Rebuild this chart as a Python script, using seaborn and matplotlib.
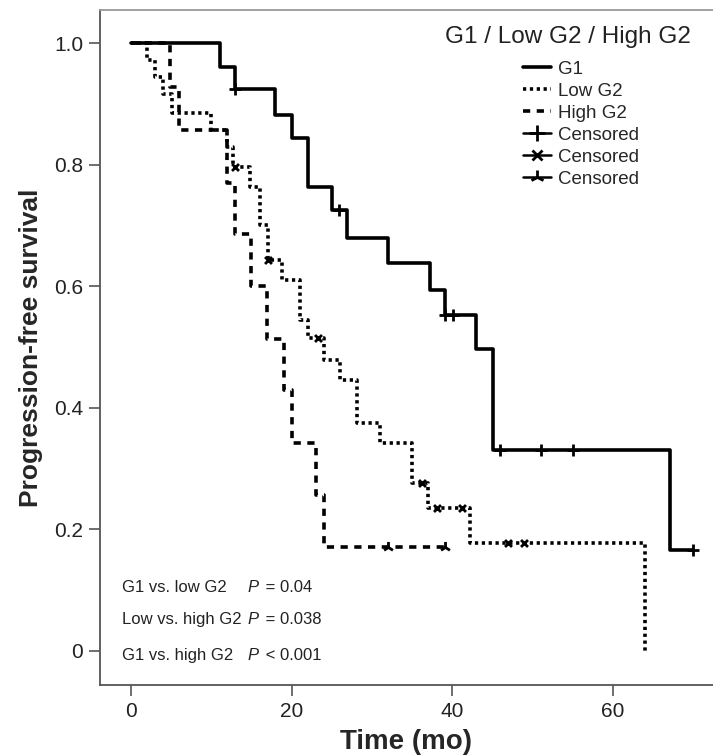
import numpy as np
import pandas as pd
import matplotlib
matplotlib.use("Agg")
import matplotlib.pyplot as plt
from matplotlib.lines import Line2D
import seaborn as sns

# -------------------
# DATA
# -------------------
g1_time = [0, 11.1, 13.0, 17.9, 20.1, 22.1, 25.1, 26.9, 32.0, 37.2, 39.1, 43.0, 45.1, 67.1, 70.0]
g1_surv = [1.0, 0.962, 0.925, 0.882, 0.845, 0.763, 0.726, 0.679, 0.638, 0.594, 0.553, 0.497, 0.331, 0.166, 0.166]
g1_censored = [13.0, 25.9, 39.1, 40.1, 46.0, 51.1, 55.1, 70.0]

low_time = [0, 2.0, 3.0, 4.0, 5.1, 10.0, 12.0, 12.7, 14.8, 16.1, 17.1, 18.8, 21.0, 22.1,
            24.0, 26.0, 28.1, 31.0, 35.0, 37.0, 42.2, 64.0]
low_surv = [1.0, 0.972, 0.944, 0.917, 0.885, 0.858, 0.830, 0.797, 0.764, 0.701, 0.644, 0.611,
            0.545, 0.515, 0.479, 0.446, 0.375, 0.342, 0.276, 0.235, 0.177, 0.0]
low_censored = [13.0, 17.1, 23.3, 36.2, 38.1, 41.2, 47.0, 48.9]

high_time = [0, 4.9, 6.0, 11.9, 13.0, 15.0, 16.9, 19.0, 20.0, 23.1, 24.0, 39.1]
high_surv = [1.0, 0.929, 0.857, 0.771, 0.686, 0.600, 0.514, 0.429, 0.343, 0.257, 0.171, 0.171]
high_censored = [32.0, 39.1]

group_names = ["G1", "Low G2", "High G2"]
x_ticks = [0, 20, 40, 60]
y_ticks = [0, 0.2, 0.4, 0.6, 0.8, 1.0]
y_tick_labels = ["0", "0.2", "0.4", "0.6", "0.8", "1.0"]
comparisons = ["G1 vs. low G2", "Low vs. high G2", "G1 vs. high G2"]
p_values = ["P = 0.04", "P = 0.038", "P < 0.001"]

# -------------------
# STYLE
# -------------------
sns.set_style("ticks")
plt.rcParams["font.family"] = ["Liberation Sans", "DejaVu Sans"]

LW = 2.6
styles = {
    "G1": dict(linestyle="-", marker="+", ms=9),
    "Low G2": dict(linestyle=(0, (0.9, 1.0)), marker="x", ms=5),
    "High G2": dict(linestyle=(0, (2.0, 1.8)), marker="2", ms=8),
}

fig = plt.figure(figsize=(7.13, 7.55), dpi=100)
ax = fig.add_axes([100 / 713, 70 / 755, 613 / 713, 675 / 755])

curves = [
    ("G1", g1_time, g1_surv, g1_censored),
    ("Low G2", low_time, low_surv, low_censored),
    ("High G2", high_time, high_surv, high_censored),
]

for name, t, s, cens in curves:
    df = pd.DataFrame({"time": t, "surv": s})
    sns.lineplot(data=df, x="time", y="surv", ax=ax, color="black",
                 linewidth=LW, linestyle=styles[name]["linestyle"],
                 drawstyle="steps-post", estimator=None)
    # censored marks sit on the step function
    t_arr = np.array(t)
    idx = np.searchsorted(t_arr, cens, side="right") - 1
    cdf = pd.DataFrame({"time": cens, "surv": np.array(s)[idx]})
    sns.scatterplot(data=cdf, x="time", y="surv", ax=ax, color="black",
                    marker=styles[name]["marker"], s=styles[name]["ms"] ** 2,
                    linewidth=2.0, zorder=5)

# -------------------
# AXES
# -------------------
ax.set_xlim(-3.86, 72.5)
ax.set_ylim(-0.056, 1.055)
ax.set_xticks(x_ticks)
ax.set_yticks(y_ticks)
ax.set_yticklabels(y_tick_labels)
ax.tick_params(axis="both", labelsize=15, length=8, width=1.2, color="#555555",
               labelcolor="#222222", pad=4)
ax.spines["right"].set_visible(False)
for side in ["left", "bottom"]:
    ax.spines[side].set_color("#555555")
    ax.spines[side].set_linewidth(1.3)
ax.spines["top"].set_color("#999999")
ax.spines["top"].set_linewidth(1.3)

ax.set_xlabel("Time (mo)", fontsize=20, fontweight="bold", labelpad=6)
ax.set_ylabel("Progression-free survival", fontsize=19, fontweight="bold", labelpad=8)

# -------------------
# LEGEND
# -------------------
ax.text(39.1, 1.011, "G1 / Low G2 / High G2", fontsize=17.5, va="center", ha="left",
        color="#222222")
handles = [Line2D([], [], color="black", lw=LW, linestyle=styles[n]["linestyle"])
           for n in group_names]
handles += [Line2D([], [], color="black", lw=1.8, marker=styles[n]["marker"],
                   ms=styles[n]["ms"] + 2, mew=2.0, linestyle="-")
            for n in group_names]
labels = group_names + ["Censored"] * 3
ax.legend(handles, labels, loc="upper left", bbox_to_anchor=(0.668, 0.944),
          frameon=False, fontsize=13.5, handlelength=1.5, handletextpad=0.4,
          labelspacing=0.26, borderpad=0.2)

# -------------------
# P VALUES
# -------------------
p_y = [0.104, 0.051, -0.008]
for label, p, y in zip(comparisons, p_values, p_y):
    ax.text(-1.1, y, label, fontsize=12, va="center", ha="left", color="#222222")
    ax.text(14.5, y, "P", fontsize=12, style="italic", va="center", ha="left",
            color="#222222")
    ax.text(16.2, y, p[1:], fontsize=12, va="center", ha="left", color="#222222")

fig.savefig("out.png", dpi=100)
